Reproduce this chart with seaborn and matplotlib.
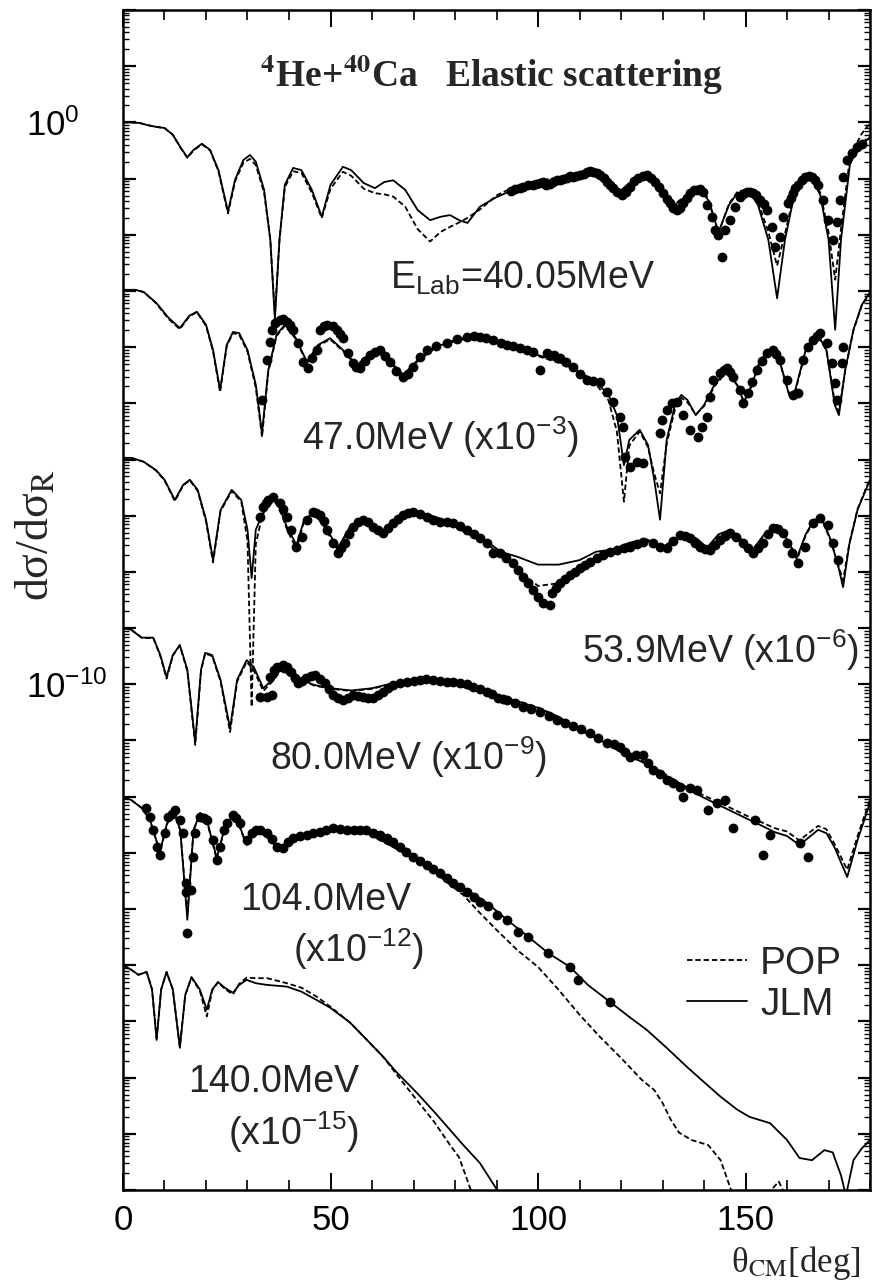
import numpy as np
import seaborn as sns
import matplotlib.pyplot as plt
from matplotlib.lines import Line2D
from matplotlib.ticker import MultipleLocator, LogLocator, FuncFormatter

# log10(dsigma/dsigma_R), before the x10^-3k shift
scale_exp = [0, -3, -6, -9, -12, -15]

# 40.05 MeV
th_jlm_40 = [0, 2, 4, 6, 8, 10, 12, 14, 15.5, 17, 19, 21, 23, 25.3, 27, 29, 30.6, 32, 34, 35.5,
             36.6, 37.7, 39, 41, 43, 45.5, 47.9, 50, 53, 55, 58, 60.7, 63, 65.1, 68, 71, 74, 76.5, 78.8, 81,
             83, 86, 90, 95, 100, 105, 110, 113, 116, 119.5, 122, 125, 128, 131, 133, 136, 139, 141, 143.5, 146,
             148, 150.6, 153, 155.5, 157.6, 159.5, 162, 165.5, 168, 170, 171.6, 173, 175.2, 178, 180]
lg_jlm_40 = [0.0, 0.0, -0.01, -0.05, -0.08, -0.10, -0.22, -0.46, -0.62, -0.49, -0.38, -0.49, -0.85, -1.59, -1.02, -0.67, -0.58, -0.70, -1.20, -2.09,
             -3.51, -2.09, -1.11, -0.81, -0.85, -1.20, -1.68, -1.11, -0.79, -0.85, -1.08, -1.17, -1.06, -1.03, -1.20, -1.56, -1.74, -1.68, -1.65, -1.74,
             -1.79, -1.50, -1.33, -1.17, -1.08, -1.00, -0.92, -0.89, -1.03, -1.24, -1.08, -0.95, -1.11, -1.38, -1.47, -1.29, -1.20, -1.38, -1.95, -1.47,
             -1.26, -1.20, -1.47, -2.09, -3.13, -2.09, -1.20, -0.95, -1.29, -2.09, -3.69, -2.09, -0.72, -0.40, -0.26]
lg_pop_40 = [0.0, 0.0, -0.01, -0.05, -0.08, -0.10, -0.22, -0.47, -0.63, -0.50, -0.39, -0.50, -0.87, -1.62, -1.05, -0.72, -0.65, -0.76, -1.25, -2.10,
             -3.40, -2.10, -1.15, -0.87, -0.90, -1.25, -1.70, -1.18, -0.88, -0.95, -1.18, -1.26, -1.28, -1.32, -1.50, -1.90, -2.12, -1.95, -1.86, -1.78,
             -1.70, -1.55, -1.30, -1.12, -1.04, -0.98, -0.91, -0.88, -1.02, -1.25, -1.10, -0.96, -1.10, -1.36, -1.45, -1.28, -1.18, -1.35, -1.97, -1.45,
             -1.24, -1.18, -1.42, -1.95, -2.55, -1.98, -1.18, -0.92, -1.25, -1.95, -2.80, -1.90, -0.60, -0.20, -0.02]
th_exp_40 = [93.5, 94.5, 95.7, 96.3, 97.5, 98.8, 99.6, 100.5, 101.3, 102, 102.8, 103.6, 104.5, 105.3, 106.1, 107, 107.7, 108.4, 109.2, 110.1,
             111, 111.8, 112.5, 113.3, 114.1, 114.9, 115.8, 116.6, 117.4, 118.1, 119.1, 120.2, 121.2, 122.2, 123.2, 124.1, 125.2, 126.3, 127.3, 128.2,
             129.2, 130.1, 131, 131.8, 132.6, 133.5, 134.2, 134.9, 135.8, 136.6, 137.5, 138.3, 139, 139.8, 140.7, 141.9, 142.7, 143.4, 144.3, 145.1,
             146.3, 147.5, 148.7, 149.5, 150.4, 151.1, 151.8, 152.6, 153.5, 154.4, 155.2, 156.4, 157.1, 158.3, 159, 160.2, 161, 161.4, 162, 162.7,
             163.5, 164.3, 165.2, 166, 166.8, 167.5, 168.7, 169.9, 171.1, 172, 172.8, 173.5, 174.4, 175.7, 176.9, 178]
lg_exp_40 = [-1.22, -1.18, -1.17, -1.15, -1.12, -1.11, -1.10, -1.08, -1.06, -1.11, -1.09, -1.06, -1.02, -1.03, -1.00, -0.99, -0.96, -0.97, -0.95, -0.94,
             -0.91, -0.88, -0.86, -0.88, -0.90, -0.94, -0.99, -1.06, -1.11, -1.17, -1.24, -1.30, -1.24, -1.15, -1.05, -0.99, -0.95, -0.94, -0.99, -1.06,
             -1.15, -1.26, -1.36, -1.44, -1.52, -1.56, -1.52, -1.44, -1.34, -1.26, -1.21, -1.20, -1.19, -1.24, -1.47, -1.68, -1.91, -2.00, -2.40, -1.91,
             -1.74, -1.51, -1.33, -1.27, -1.24, -1.23, -1.26, -1.30, -1.38, -1.46, -1.56, -1.86, -2.22, -2.04, -1.68, -1.44, -1.34, -1.26, -1.17, -1.11,
             -1.03, -0.97, -0.95, -0.97, -1.02, -1.11, -1.38, -1.74, -2.09, -1.77, -1.38, -0.97, -0.67, -0.55, -0.44, -0.38]

# 47.0 MeV
th_jlm_47 = [0, 3, 5, 8, 11, 13.7, 16, 17.8, 20, 21.7, 23.4, 25, 26.5, 28, 30, 32, 33.5, 35, 37, 39,
             41.5, 44.3, 47, 49.9, 53, 56.4, 59, 61.2, 64, 67.5, 71, 75, 80, 85, 90, 95, 100, 105, 110, 114,
             117, 119, 120.7, 122, 124.5, 126.5, 128, 129.4, 131, 133, 134.5, 136, 138, 140, 142.5, 145.5, 148, 149.6, 151.5, 153.5,
             155.9, 158.5, 160.5, 162, 164.5, 167.2, 169.5, 171.5, 172.5, 174, 176, 178, 180]
lg_jlm_47 = [0.02, 0.02, -0.02, -0.21, -0.48, -0.66, -0.44, -0.37, -0.60, -1.05, -1.76, -0.96, -0.73, -0.75, -1.05, -1.67, -2.53, -1.41, -0.78, -0.60,
             -0.82, -1.26, -0.96, -0.84, -1.05, -1.32, -1.14, -1.05, -1.23, -1.49, -1.23, -1.01, -0.87, -0.80, -0.87, -1.01, -1.14, -1.26, -1.44, -1.62,
             -1.85, -2.21, -3.10, -2.65, -2.47, -2.74, -3.36, -4.07, -2.65, -2.03, -1.85, -1.94, -2.21, -2.03, -1.67, -1.41, -1.67, -1.98, -1.67, -1.23,
             -1.05, -1.32, -1.85, -1.76, -1.05, -0.75, -1.05, -2.03, -2.21, -1.41, -0.69, -0.25, -0.02]
lg_pop_47 = [0.02, 0.02, -0.02, -0.22, -0.50, -0.68, -0.45, -0.38, -0.62, -1.08, -1.80, -0.98, -0.75, -0.78, -1.08, -1.72, -2.60, -1.45, -0.80, -0.62,
             -0.84, -1.28, -0.98, -0.86, -1.07, -1.34, -1.16, -1.07, -1.25, -1.51, -1.25, -1.03, -0.89, -0.82, -0.89, -1.03, -1.16, -1.28, -1.46, -1.66,
             -1.95, -2.50, -3.75, -2.75, -2.50, -2.78, -3.25, -3.60, -2.72, -2.10, -1.90, -1.98, -2.20, -2.05, -1.70, -1.43, -1.68, -1.97, -1.69, -1.25,
             -1.06, -1.33, -1.83, -1.78, -1.07, -0.77, -1.06, -1.98, -2.15, -1.42, -0.70, -0.26, -0.03]
th_exp_47 = [33.5, 34.7, 35.4, 36, 36.6, 37.8, 38.6, 39.5, 40.2, 41, 42.2, 43.4, 44.6, 45.5, 46.7, 47.5, 48.4, 49.2, 50.5, 51.6,
             52.2, 53, 54.2, 55.4, 56.2, 57.1, 58.3, 59.5, 60.7, 62, 63.1, 64.3, 65.8, 67.5, 68.7, 69.9, 71.5, 73.3, 75.5, 78,
             80.5, 82.9, 84.5, 86, 87.5, 89.2, 91, 92.5, 94, 95.7, 97.3, 98.8, 100.5, 102.2, 103.8, 105.3, 106.8, 108.4, 110.1, 111.8,
             113.3, 114.9, 116.6, 118.1, 119.8, 120.5, 121, 122.2, 123.9, 125.3, 129.4, 129.8, 131, 132.2, 133.4, 135, 136.6, 138.6, 139.5, 140.7,
             141.4, 142.2, 143.9, 144.7, 145.5, 146.2, 147, 148.7, 149.4, 150.6, 151.6, 152.8, 153.9, 155.2, 156.6, 157.4, 158.3, 159.9, 161.4, 162.7,
             163.9, 165, 166.3, 167.1, 168, 169.6, 170.8, 171.6, 172, 173.3, 173.5]
lg_exp_47 = [-1.94, -1.23, -0.91, -0.70, -0.57, -0.52, -0.50, -0.55, -0.60, -0.69, -0.93, -1.26, -1.37, -1.20, -1.05, -0.69, -0.62, -0.60, -0.62, -0.69,
             -0.76, -0.84, -1.10, -1.28, -1.35, -1.37, -1.25, -1.14, -1.08, -1.05, -1.15, -1.26, -1.42, -1.53, -1.47, -1.35, -1.18, -1.05, -0.98, -0.93,
             -0.86, -0.82, -0.80, -0.82, -0.83, -0.87, -0.92, -0.96, -0.98, -1.01, -1.05, -1.09, -1.41, -1.10, -1.14, -1.19, -1.27, -1.35, -1.47, -1.58,
             -1.60, -1.62, -1.80, -1.98, -2.24, -2.42, -2.95, -3.13, -3.04, -3.06, -2.53, -2.30, -2.12, -1.99, -1.98, -2.21, -2.47, -2.60, -2.42, -2.24,
             -1.89, -1.58, -1.46, -1.40, -1.37, -1.44, -1.53, -1.76, -1.99, -1.81, -1.62, -1.41, -1.24, -1.10, -1.05, -1.12, -1.23, -1.58, -1.85, -1.81,
             -1.23, -1.00, -0.87, -0.80, -0.75, -0.93, -1.28, -1.64, -1.94, -1.28, -1.00]

# 53.9 MeV
th_jlm_54 = [0, 2, 5, 8, 10, 12.5, 14.5, 16.1, 18, 20, 21.7, 23.5, 26.2, 28.5, 30, 31, 32, 33.5, 35.4, 37.5,
             39.5, 41.8, 43.5, 45.8, 48, 51.8, 54.5, 57.8, 60, 62.7, 66, 69.9, 74, 78.8, 83, 87, 91, 95, 100, 105,
             110, 114, 118, 122, 126.2, 130, 133, 135.9, 138.5, 140.7, 143.5, 146.3, 149, 151.8, 154.5, 157.6, 160, 162.4, 164.5, 166.5,
             168.5, 170.5, 172.5, 173.5, 175, 177, 180]
lg_jlm_54 = [0.03, 0.03, -0.04, -0.19, -0.36, -0.72, -0.45, -0.36, -0.54, -1.07, -1.79, -0.90, -0.54, -0.72, -1.25, -2.11, -1.25, -0.99, -0.67, -0.81,
             -1.20, -1.52, -1.11, -0.93, -1.11, -1.57, -1.22, -1.07, -1.20, -1.29, -1.07, -0.93, -0.99, -1.11, -1.29, -1.42, -1.64, -1.73, -1.87, -1.87,
             -1.79, -1.64, -1.60, -1.48, -1.42, -1.57, -1.40, -1.31, -1.42, -1.57, -1.33, -1.25, -1.42, -1.60, -1.33, -1.16, -1.42, -1.74, -1.33, -1.07,
             -1.07, -1.42, -1.95, -2.27, -1.51, -0.89, -0.36]
lg_pop_54 = [0.03, 0.03, -0.04, -0.20, -0.37, -0.74, -0.46, -0.37, -0.56, -1.10, -1.83, -0.92, -0.56, -0.75, -1.45, -4.40, -1.50, -1.02, -0.69, -0.83,
             -1.24, -1.60, -1.13, -0.95, -1.14, -1.62, -1.24, -1.09, -1.22, -1.31, -1.09, -0.95, -1.01, -1.14, -1.32, -1.46, -1.70, -1.95, -2.25, -2.20,
             -1.98, -1.75, -1.62, -1.50, -1.44, -1.58, -1.41, -1.32, -1.44, -1.58, -1.35, -1.27, -1.44, -1.62, -1.35, -1.18, -1.44, -1.78, -1.35, -1.09,
             -1.09, -1.44, -1.92, -2.15, -1.50, -0.88, -0.34]
th_exp_54 = [33, 33.8, 34.4, 35, 36.2, 37.8, 38.6, 39.4, 40.6, 41.8, 43.1, 44.3, 45.8, 46.6, 47.5, 48.4, 49.2, 50.6, 51.8, 52.6,
             53.5, 54.4, 55.4, 56.6, 57.8, 59, 60.2, 61.5, 62.7, 63.9, 65.1, 66.3, 67.5, 68.7, 69.9, 71.5, 73.3, 74.8, 76.4, 78,
             79.5, 81.2, 82.9, 84.5, 86, 87.7, 89.2, 90.8, 92.4, 94, 95.2, 96.4, 97.6, 98.8, 100, 101.2, 102.9, 103.4, 104.4, 105.3,
             106.5, 107.7, 108.9, 110.1, 111.3, 112.5, 114.1, 115.7, 117.4, 119, 120.6, 122.2, 123.8, 125.3, 127.7, 129.4, 131, 132.6, 134.2, 135.4,
             136.6, 137.8, 139, 140.2, 141.4, 142.6, 143.9, 145.1, 146.3, 147.8, 149.4, 150.6, 151.8, 153, 154.2, 155.4, 156.6, 157.8, 159, 160.1,
             161.2, 162.7, 164.3, 166.3, 168, 169.9, 171.1, 172.3]
lg_exp_54 = [-1.02, -0.84, -0.77, -0.72, -0.66, -0.77, -0.88, -1.02, -1.25, -1.55, -1.38, -1.07, -0.93, -0.95, -0.99, -1.10, -1.25, -1.48, -1.66, -1.58,
             -1.48, -1.33, -1.20, -1.12, -1.07, -1.12, -1.20, -1.25, -1.30, -1.22, -1.13, -1.05, -0.99, -0.95, -0.93, -0.97, -1.02, -1.07, -1.11, -1.12,
             -1.13, -1.18, -1.25, -1.32, -1.39, -1.48, -1.66, -1.66, -1.75, -1.84, -1.96, -2.09, -2.20, -2.32, -2.44, -2.55, -2.59, -2.38, -2.28, -2.20,
             -2.13, -2.06, -2.00, -1.93, -1.87, -1.82, -1.76, -1.70, -1.65, -1.61, -1.58, -1.56, -1.50, -1.47, -1.49, -1.55, -1.58, -1.45, -1.35, -1.36,
             -1.40, -1.48, -1.56, -1.60, -1.61, -1.52, -1.43, -1.36, -1.31, -1.38, -1.48, -1.58, -1.66, -1.58, -1.48, -1.33, -1.22, -1.24, -1.31, -1.48,
             -1.66, -1.84, -1.55, -1.13, -1.04, -1.17, -1.48, -1.79]

# 80.0 MeV
th_jlm_80 = [0, 2, 4.5, 7.3, 9, 10.5, 12, 13.7, 15.5, 17.4, 18.8, 19.8, 21.5, 23.5, 25.8, 27.5, 29.8, 31.5, 33.8, 36,
             38, 40, 43, 46, 50, 55, 60, 65, 70, 75, 80, 85, 90, 95, 100, 105, 110, 115, 120, 125,
             130, 135, 140, 145, 150, 154, 157, 160, 163, 165, 167.5, 169.5, 171.5, 174.5, 177, 180]
lg_jlm_80 = [0.0, -0.03, -0.17, -0.17, -0.48, -0.87, -0.48, -0.30, -0.74, -2.03, -0.74, -0.44, -0.48, -0.92, -1.78, -0.92, -0.57, -0.69, -1.07, -0.92,
             -0.74, -0.83, -0.92, -1.01, -1.07, -1.11, -1.07, -0.98, -0.92, -0.96, -1.01, -1.11, -1.19, -1.30, -1.42, -1.60, -1.82, -1.99, -2.21, -2.38,
             -2.60, -2.83, -3.02, -3.20, -3.38, -3.52, -3.63, -3.70, -3.86, -3.74, -3.59, -3.65, -3.91, -4.43, -3.77, -3.11]
lg_pop_80 = [0.0, -0.03, -0.17, -0.18, -0.50, -0.90, -0.49, -0.31, -0.76, -2.08, -0.76, -0.45, -0.50, -0.95, -1.85, -0.95, -0.60, -0.75, -1.12, -0.95,
             -0.76, -0.84, -0.93, -1.02, -1.08, -1.12, -1.08, -0.99, -0.93, -0.97, -1.02, -1.11, -1.19, -1.29, -1.41, -1.58, -1.80, -1.97, -2.18, -2.35,
             -2.57, -2.80, -2.98, -3.15, -3.33, -3.46, -3.56, -3.62, -3.78, -3.66, -3.52, -3.58, -3.85, -4.30, -3.70, -3.05]
th_exp_80 = [33, 34.6, 35.4, 35.9, 36.4, 37, 38.6, 39.6, 40.6, 41.4, 42.2, 43.2, 44.2, 45.2, 46.3, 47.5, 48.7, 49.7, 50.7, 51.8,
             53, 54.2, 55.4, 56.6, 57.8, 59, 60.2, 61.5, 62.7, 63.9, 65.1, 66.7, 68.4, 70, 71.6, 73.1, 74.7, 76.4, 78, 79.6,
             81.2, 82.8, 84.3, 86, 87.7, 89, 90.4, 91.5, 92.5, 94.4, 96.4, 98.4, 100.5, 102.6, 104.6, 106.5, 108.4, 110.4, 112.5, 114.5,
             116.6, 118.2, 119.8, 120.9, 122.2, 123.7, 125.3, 126.5, 127.7, 129.3, 131, 132.6, 134.2, 134.9, 136.5, 138.3, 141, 143.1, 145.1, 147,
             152.3, 154.2, 155.9, 163.1, 165]
lg_exp_80 = [-1.22, -1.22, -0.87, -1.19, -0.75, -0.69, -0.65, -0.70, -0.78, -0.88, -0.97, -0.94, -0.89, -0.85, -0.83, -0.90, -0.97, -1.08, -1.19, -1.24,
             -1.28, -1.24, -1.19, -1.20, -1.22, -1.24, -1.24, -1.19, -1.13, -1.07, -1.01, -0.98, -0.96, -0.94, -0.92, -0.91, -0.92, -0.94, -0.96, -0.96,
             -0.97, -1.00, -1.04, -1.08, -1.13, -1.18, -1.24, -1.26, -1.28, -1.34, -1.40, -1.44, -1.49, -1.56, -1.63, -1.69, -1.75, -1.80, -1.86, -1.95,
             -2.04, -2.07, -2.11, -2.20, -2.29, -2.26, -2.25, -2.40, -2.52, -2.60, -2.70, -2.75, -2.82, -3.00, -2.85, -2.88, -3.23, -3.11, -3.06, -3.56,
             -3.41, -4.04, -3.68, -3.82, -4.08]

# 104.0 MeV
th_jlm_104 = [0, 2, 4.5, 6.5, 8.9, 10.5, 12.1, 13.8, 15.5, 17, 18.6, 20.5, 22.6, 24.5, 26.5, 28, 29.8, 31.5, 33, 35,
              37.8, 40, 42.6, 46, 50.6, 55, 58.8, 62, 66.7, 70, 74.7, 78, 82.9, 87.7, 92.5, 97.6, 102.4, 107.7, 112, 117.3,
              122, 126.2, 131, 135.9, 140, 144, 148, 151, 155.9, 160, 163, 166, 169, 171, 173, 174.2, 176, 178, 180]
lg_jlm_104 = [0.0, -0.06, -0.20, -0.41, -0.98, -0.50, -0.23, -0.59, -2.19, -0.59, -0.29, -0.50, -1.09, -0.55, -0.33, -0.50, -0.86, -0.68, -0.63, -0.73,
              -0.95, -0.80, -0.70, -0.63, -0.55, -0.59, -0.65, -0.77, -0.95, -1.09, -1.30, -1.48, -1.66, -1.89, -2.19, -2.49, -2.78, -3.03, -3.35, -3.65,
              -3.92, -4.15, -4.47, -4.81, -5.08, -5.34, -5.57, -5.70, -5.81, -6.11, -6.43, -6.47, -6.29, -6.33, -6.74, -7.10, -6.47, -6.26, -6.11]
th_pop_104 = [0, 2, 4.5, 6.5, 8.9, 10.5, 12.1, 13.8, 15.5, 17, 18.6, 20.5, 22.6, 24.5, 26.5, 28, 29.8, 31.5, 33, 35,
              37.8, 40, 42.6, 46, 50.6, 55, 58.8, 62, 66.7, 70, 74.7, 78, 82, 86, 90, 95, 100, 105, 110, 115,
              120, 125, 128, 130, 132, 134, 137, 141, 144, 146.7, 150, 155, 158, 161]
lg_pop_104 = [0.0, -0.06, -0.20, -0.42, -1.0, -0.51, -0.24, -0.60, -2.1, -0.60, -0.30, -0.52, -1.12, -0.56, -0.34, -0.51, -0.88, -0.69, -0.64, -0.74,
              -0.96, -0.81, -0.71, -0.63, -0.55, -0.59, -0.66, -0.78, -0.96, -1.10, -1.32, -1.52, -1.75, -2.07, -2.37, -2.73, -3.03, -3.44, -3.88, -4.28,
              -4.65, -5.04, -5.22, -5.45, -5.75, -5.98, -6.11, -6.20, -6.47, -7.04, -7.5, -7.1, -6.85, -7.3]
th_exp_104 = [5.5, 6.5, 7.3, 8.1, 8.9, 10.1, 10.9, 11.7, 12.5, 13.7, 14.5, 15.2, 15.3, 15.4, 16.5, 16.9, 17.3, 18.6, 19.4, 20.2,
              21.7, 22.6, 23.4, 24.3, 25.1, 26.5, 27.3, 28.2, 29.9, 31, 32, 33, 34.7, 35.9, 37.1, 38.6, 39.8, 41, 42.6, 44.3,
              45.9, 47.5, 49, 50.6, 52.3, 54, 55.6, 57.1, 58.6, 60.2, 61.9, 63.6, 65.1, 66.7, 68.3, 69.9, 71.6, 73.3, 74.8, 76.4,
              78, 79.5, 81.2, 82.9, 84.5, 86, 88, 90.1, 92.5, 95.2, 97.6, 102.4, 107.7, 109.6, 117.3]
lg_exp_104 = [-0.20, -0.36, -0.59, -0.89, -1.04, -0.64, -0.36, -0.30, -0.24, -0.41, -0.64, -1.54, -1.69, -2.43, -1.66, -1.07, -0.64, -0.36, -0.38, -0.41,
              -0.77, -1.12, -0.89, -0.60, -0.47, -0.32, -0.38, -0.47, -0.77, -0.64, -0.60, -0.59, -0.64, -0.75, -0.89, -0.91, -0.80, -0.73, -0.70, -0.68,
              -0.65, -0.63, -0.60, -0.56, -0.57, -0.59, -0.59, -0.59, -0.60, -0.64, -0.68, -0.73, -0.80, -0.89, -0.98, -1.07, -1.14, -1.21, -1.28, -1.36,
              -1.45, -1.54, -1.60, -1.69, -1.78, -1.87, -1.95, -2.10, -2.19, -2.40, -2.49, -2.78, -3.03, -3.26, -3.65]

# 140.0 MeV (no data)
th_jlm_140 = [0, 2, 3.7, 5.7, 7, 8.1, 9.2, 10.5, 12, 13.7, 15, 16.5, 18.5, 20.2, 21.5, 22.9, 24.5, 26.5, 28, 29.8,
              32, 34.7, 39.5, 43, 46.7, 50, 54.7, 58, 62.7, 66, 70.8, 75, 78.8, 82, 86, 90.5]
lg_jlm_140 = [0.0, -0.08, -0.17, -0.12, -0.43, -1.33, -0.43, -0.12, -0.43, -1.47, -0.53, -0.21, -0.43, -0.79, -0.43, -0.30, -0.40, -0.49, -0.35, -0.26,
              -0.32, -0.35, -0.38, -0.47, -0.62, -0.76, -1.02, -1.27, -1.63, -1.91, -2.27, -2.61, -2.93, -3.20, -3.52, -4.04]
th_pop_140 = [0, 2, 3.7, 5.7, 7, 8.1, 9.2, 10.5, 12, 13.7, 15, 16.5, 18.5, 20.2, 21.5, 22.9, 24.5, 26.5, 28, 29.8,
              32, 34.7, 39.5, 43, 46.7, 50, 54.7, 58, 62.7, 66, 70.8, 75, 78.8, 81, 84]
lg_pop_140 = [0.0, -0.08, -0.17, -0.12, -0.43, -1.30, -0.43, -0.12, -0.43, -1.45, -0.53, -0.22, -0.45, -0.91, -0.45, -0.30, -0.42, -0.52, -0.33, -0.22,
              -0.23, -0.23, -0.32, -0.40, -0.56, -0.74, -1.02, -1.27, -1.63, -1.95, -2.40, -2.79, -3.20, -3.42, -4.04]

curves = [
    (th_jlm_40, lg_jlm_40, th_jlm_40, lg_pop_40, th_exp_40, lg_exp_40),
    (th_jlm_47, lg_jlm_47, th_jlm_47, lg_pop_47, th_exp_47, lg_exp_47),
    (th_jlm_54, lg_jlm_54, th_jlm_54, lg_pop_54, th_exp_54, lg_exp_54),
    (th_jlm_80, lg_jlm_80, th_jlm_80, lg_pop_80, th_exp_80, lg_exp_80),
    (th_jlm_104, lg_jlm_104, th_pop_104, lg_pop_104, th_exp_104, lg_exp_104),
    (th_jlm_140, lg_jlm_140, th_pop_140, lg_pop_140, None, None),
]

labels = [
    (0.357, 0.764, r"E$_{\mathrm{Lab}}$=40.05MeV"),
    (0.240, 0.627, r"47.0MeV (x10$^{-3}$)"),
    (0.614, 0.447, r"53.9MeV (x10$^{-6}$)"),
    (0.197, 0.356, r"80.0MeV (x10$^{-9}$)"),
    (0.157, 0.237, "104.0MeV"),
    (0.228, 0.193, r"(x10$^{-12}$)"),
    (0.087, 0.083, "140.0MeV"),
    (0.141, 0.038, r"(x10$^{-15}$)"),
]

sns.set_theme(style="ticks")
plt.rcParams["font.family"] = ["Liberation Sans", "DejaVu Sans"]
plt.rcParams["mathtext.fontset"] = "custom"
plt.rcParams["mathtext.rm"] = "Liberation Sans"
plt.rcParams["mathtext.it"] = "Liberation Sans:italic"
plt.rcParams["mathtext.bf"] = "Liberation Sans:bold"

pop_dash = (0, (3.0, 1.6))
lw = 1.3

fig = plt.figure(figsize=(8.76, 12.84), dpi=100)
ax = fig.add_axes([0.1404, 0.0732, 0.8528, 0.9190])
ax.set_yscale("log")

for (thj, lgj, thp, lgp, the, lge), k in zip(curves, scale_exp):
    sns.lineplot(x=thj, y=10.0 ** (np.array(lgj) + k), ax=ax, color="black",
                 lw=lw, estimator=None)
    sns.lineplot(x=thp, y=10.0 ** (np.array(lgp) + k), ax=ax, color="black",
                 lw=lw, estimator=None)
    ax.lines[-1].set_linestyle(pop_dash)
    if the is not None:
        sns.scatterplot(x=the, y=10.0 ** (np.array(lge) + k), ax=ax,
                        color="black", s=50, linewidth=0, zorder=3)

ax.set_xlim(0, 180)
ax.set_ylim(1e-19, 1e2)

ax.xaxis.set_major_locator(MultipleLocator(50))
ax.xaxis.set_minor_locator(MultipleLocator(10))
ax.yaxis.set_major_locator(LogLocator(base=10, numticks=40))
ax.yaxis.set_minor_locator(LogLocator(base=10, subs=np.arange(2, 10), numticks=40))


def ylab(v, pos):
    e = int(round(np.log10(v)))
    if e in (0, -10):
        return r"$10^{%d}$" % e
    return ""


ax.yaxis.set_major_formatter(FuncFormatter(ylab))
ax.yaxis.set_minor_formatter(FuncFormatter(lambda v, p: ""))

ax.tick_params(which="both", direction="in", top=True, right=True, colors="black")
ax.tick_params(axis="x", which="major", length=12, width=1.4, labelsize=25, pad=10)
ax.tick_params(axis="x", which="minor", length=7, width=1.2)
ax.tick_params(axis="y", which="major", length=9, width=1.6, labelsize=25, pad=70)
ax.tick_params(axis="y", which="minor", length=4.5, width=1.0)
for sp in ax.spines.values():
    sp.set_linewidth(1.8)
    sp.set_color("black")

ax.set_xlabel(r"θ$_{\mathrm{CM}}$[deg]", family="Liberation Serif", fontsize=25,
              math_fontfamily="stix")
ax.xaxis.set_label_coords(0.987, -0.046)
ax.xaxis.label.set_ha("right")
ax.set_ylabel(r"dσ/dσ$_{\mathrm{R}}$", family="Liberation Serif", fontsize=33,
              math_fontfamily="stix")
ax.yaxis.set_label_coords(-0.087, 0.555)

ax.text(0.183, 0.935, r"$^{\mathbf{4}}$He+$^{\mathbf{40}}$Ca   Elastic scattering",
        transform=ax.transAxes, family="Liberation Serif", weight="bold",
        fontsize=27, math_fontfamily="stix", va="baseline", ha="left")

for x, y, s in labels:
    ax.text(x, y, s, transform=ax.transAxes, fontsize=27, va="baseline", ha="left")

handles = [Line2D([], [], color="black", lw=lw, ls=pop_dash),
           Line2D([], [], color="black", lw=lw)]
ax.legend(handles, ["POP", "JLM"], loc="upper left", bbox_to_anchor=(0.755, 0.207),
          frameon=False, fontsize=28, handlelength=1.55, handletextpad=0.33,
          labelspacing=0.13, borderpad=0, borderaxespad=0)

fig.canvas.draw()
for t in ax.yaxis.get_majorticklabels():
    t.set_ha("left")

fig.savefig("out.png", dpi=100)
